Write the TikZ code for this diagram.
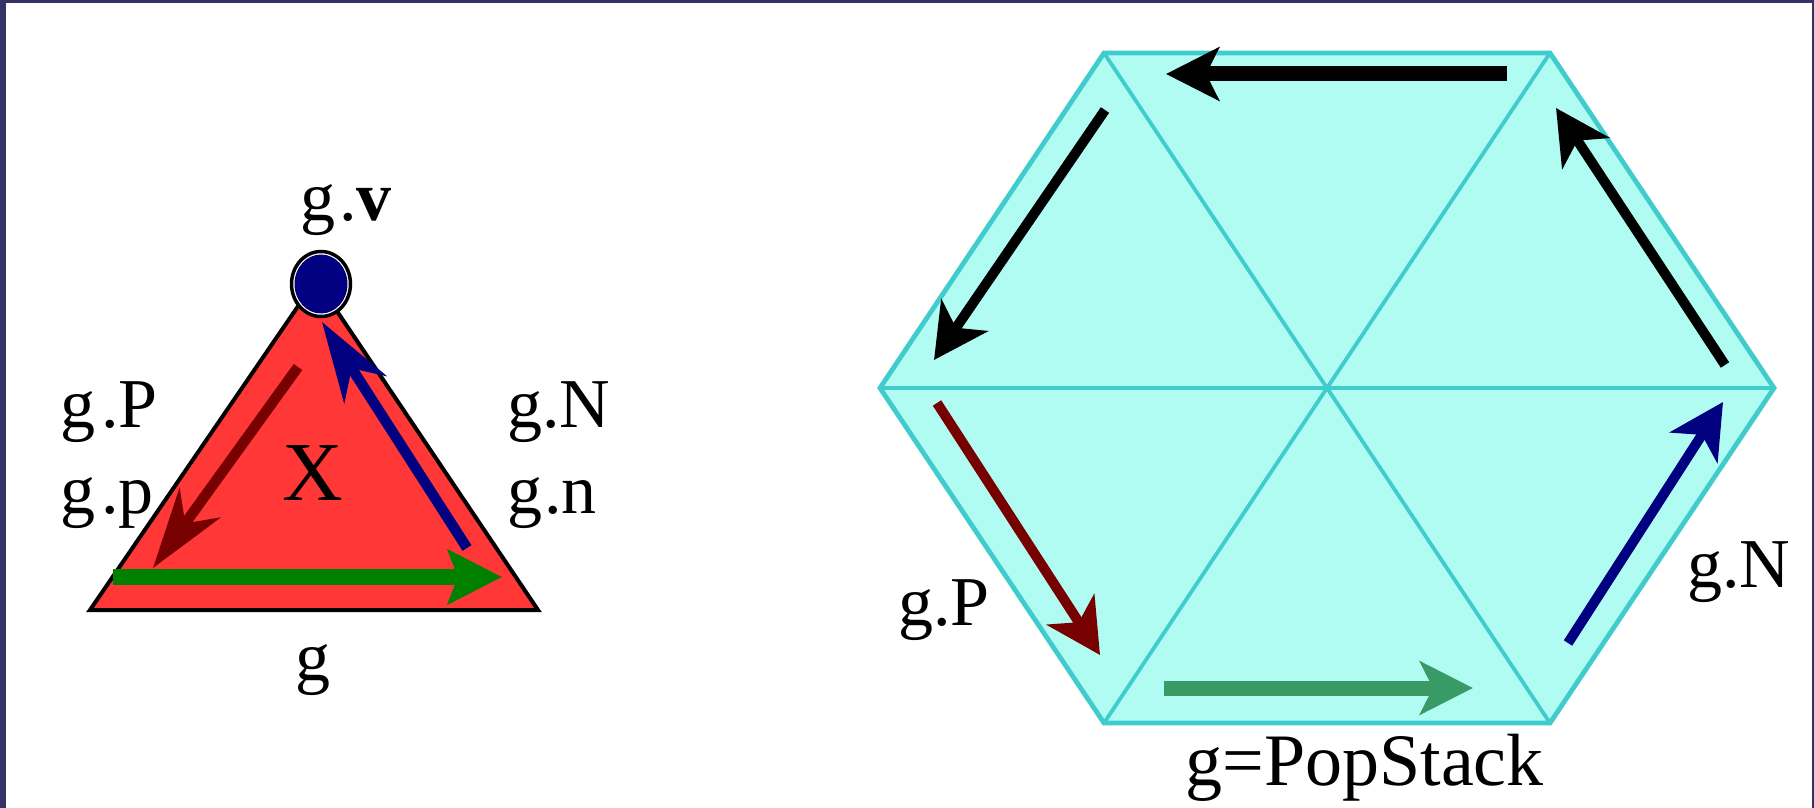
\documentclass[tikz,border=0pt]{standalone}
\usepackage{fontspec}
\setmainfont{Liberation Serif}
\usetikzlibrary{arrows.meta}
\definecolor{framecol}{RGB}{51,51,102}
\definecolor{trifill}{RGB}{255,55,55}
\definecolor{darkredc}{RGB}{119,0,0}
\definecolor{navyc}{RGB}{0,0,128}
\definecolor{greenc}{RGB}{0,128,0}
\definecolor{hexfill}{RGB}{176,252,242}
\definecolor{hexline}{RGB}{64,204,204}
\definecolor{hexgreen}{RGB}{56,155,102}
\begin{document}
\begin{tikzpicture}[x=0.5pt,y=-0.5pt,
  lbl/.style={inner sep=0,anchor=base west,font=\fontsize{35}{42}\selectfont},
  hexlbl/.style={inner sep=0,anchor=base west,font=\fontsize{35}{42}\selectfont},
  longarrow/.style={line width=5.25pt,-{Stealth[length=40pt,width=25pt,inset=12.5pt]}},
  flatarrow/.style={line width=8pt,-{Stealth[length=27pt,width=27pt,inset=5pt]}},
  hexarrow/.style={line width=5pt,-{Stealth[length=27pt,width=28pt,inset=7.5pt]}},
  hextop/.style={line width=7.5pt,-{Stealth[length=26.5pt,width=26.5pt,inset=6.5pt]}},
  hexedge/.style={draw=hexline,line width=2.4pt,line join=miter},
  hexdiag/.style={draw=hexline,line width=1.9pt}]
\useasboundingbox (0,0) rectangle (1814,808);
\fill[white] (0,0) rectangle (1814,808);
% frame
\fill[framecol] (0,0) rectangle (6,808);
\fill[framecol] (0,0) rectangle (1814,3);
\fill[framecol] (1812,0) rectangle (1814,808);

% ---------- left triangle ----------
\coordinate (tA) at (316,280);
\coordinate (tB) at (90,610);
\coordinate (tC) at (538,610);
\draw[fill=trifill,line width=2pt,line join=miter] (tA) -- (tB) -- (tC) -- cycle;
\coordinate (vtx) at (321,284);
\draw[line width=1.75pt,fill=white] (vtx) ellipse [x radius=29.5,y radius=32.5];
\fill[navyc] (vtx) ellipse [x radius=26.5,y radius=29.5];

\coordinate (rs) at (298,367);
\coordinate (re) at (153,568);
\draw[longarrow,darkredc] (rs) -- (re);
\coordinate (bs) at (467,548);
\coordinate (be) at (322,322);
\draw[longarrow,navyc] (bs) -- (be);
\coordinate (gs) at (113,577);
\coordinate (ge) at (502,577);
\draw[flatarrow,greenc] (gs) -- (ge);

\node[lbl] (gv) at (300,220) {g\kern2pt.\textbf{v}};
\node[lbl] (gP) at (60,427) {g\kern3pt.P};
\node[lbl] (gp) at (60,513) {g\kern3pt.p};
\node[lbl] (gN) at (507,427) {g.N};
\node[lbl] (gn) at (507,513) {g\kern1pt.n};
\node[inner sep=0,anchor=base,font=\fontsize{42}{50}\selectfont] (X) at (313,500) {X};
\node[inner sep=0,anchor=base,font=\fontsize{35}{42}\selectfont] (g) at (313,680) {g};

% ---------- right hexagon ----------
\coordinate (O) at (1327,388);
\coordinate (hTL) at (1104,53);
\coordinate (hTR) at (1550,53);
\coordinate (hR) at (1774,388);
\coordinate (hBR) at (1550,723);
\coordinate (hBL) at (1104,723);
\coordinate (hL) at (880,388);
\fill[hexfill] (hTL) -- (hTR) -- (hR) -- (hBR) -- (hBL) -- (hL) -- cycle;
\draw[hexdiag] (hTL) -- (hBR);
\draw[hexdiag] (hTR) -- (hBL);
\draw[hexedge] (hL) -- (hR);
\draw[hexedge] (hTL) -- (hTR) -- (hR) -- (hBR) -- (hBL) -- (hL) -- cycle;

\coordinate (k1s) at (1507,74);
\coordinate (k1e) at (1166,74);
\draw[hextop,black] (k1s) -- (k1e);
\coordinate (k2s) at (1105,110);
\coordinate (k2e) at (934,360);
\draw[hexarrow,black] (k2s) -- (k2e);
\coordinate (k3s) at (1725,365);
\coordinate (k3e) at (1556,108);
\draw[hexarrow,black] (k3s) -- (k3e);
\coordinate (hrs) at (937,403);
\coordinate (hre) at (1100,655);
\draw[hexarrow,darkredc] (hrs) -- (hre);
\coordinate (hbs) at (1568,643);
\coordinate (hbe) at (1723,402);
\draw[hexarrow,navyc] (hbs) -- (hbe);
\coordinate (hgs) at (1164,688);
\coordinate (hge) at (1473,688);
\draw[hextop,hexgreen] (hgs) -- (hge);

\node[hexlbl] (hP) at (898,625) {g.P};
\node[hexlbl] (hN) at (1687,587) {g.N};
\node[hexlbl,font=\fontsize{37}{44}\selectfont] (hpop) at (1185,785) {g=PopStack};
\end{tikzpicture}
\end{document}
